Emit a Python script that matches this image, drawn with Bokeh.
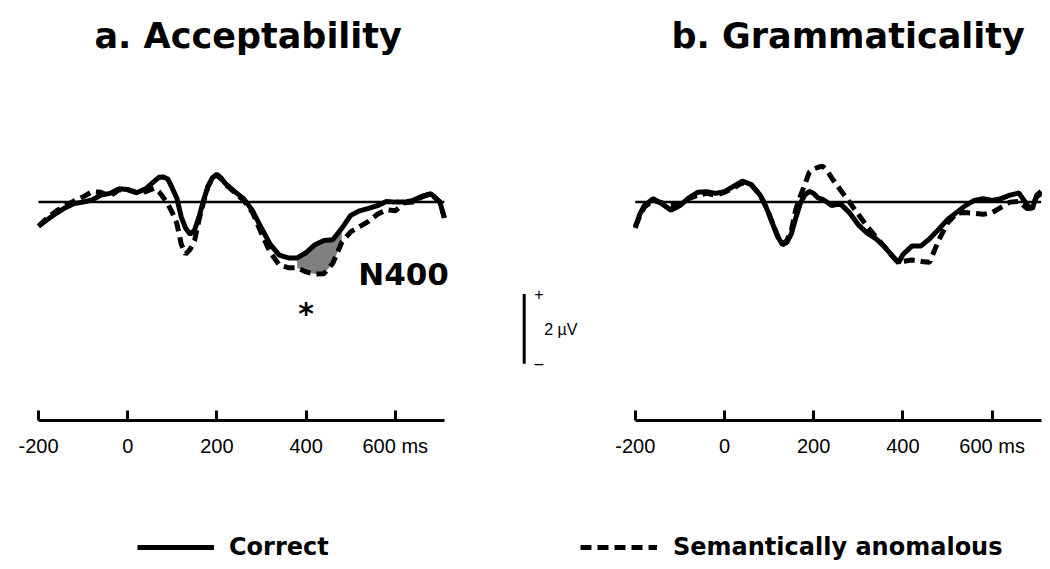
from bokeh.plotting import figure
from bokeh.models import LinearAxis, FixedTicker, Legend, LegendItem, Label, Title, Range1d
from bokeh.layouts import row, column
from bokeh.embed import file_html
from bokeh.resources import INLINE
import numpy as np

# ---------------- data (ms, µV; positive up) ----------------
time_a = [-200, -180, -160, -140, -120, -100, -80, -60, -40, -20, 0, 20, 40, 60, 70, 80, 90,
          100, 110, 120, 130, 140, 150, 160, 170, 180, 190, 200, 210, 220, 240, 260, 280, 300,
          320, 340, 360, 380, 400, 420, 440, 460, 480, 500, 520, 540, 560, 580, 600, 620, 640,
          660, 680, 700, 710]
correct_a = [-0.69, -0.5, -0.32, -0.16, -0.04, 0.0, 0.06, 0.2, 0.25, 0.38, 0.36, 0.27, 0.38, 0.6,
             0.71, 0.72, 0.66, 0.4, 0.12, -0.42, -0.75, -0.92, -0.8, -0.42, 0.05, 0.45, 0.7, 0.8,
             0.68, 0.52, 0.3, 0.1, -0.25, -0.75, -1.22, -1.52, -1.6, -1.6, -1.45, -1.22, -1.1,
             -1.08, -0.75, -0.38, -0.25, -0.18, -0.1, 0.02, 0.0, 0.0, 0.05, 0.17, 0.24, 0.0, -0.45]
anomalous_a = [-0.69, -0.45, -0.25, -0.1, 0.03, 0.15, 0.3, 0.28, 0.17, 0.35, 0.36, 0.27, 0.3, 0.4,
               0.3, 0.13, -0.05, -0.3, -0.6, -1.2, -1.49, -1.35, -1.1, -0.5, 0.0, 0.45, 0.68, 0.78,
               0.66, 0.5, 0.28, 0.05, -0.3, -0.9, -1.45, -1.8, -1.88, -1.88, -2.0, -2.06, -2.05,
               -1.75, -1.15, -0.85, -0.7, -0.55, -0.35, -0.22, -0.25, -0.02, 0.0, 0.15, 0.24, 0.0,
               -0.45]

time_b = [-200, -190, -180, -160, -140, -120, -100, -80, -60, -40, -20, 0, 20, 40, 60, 80, 90,
          100, 110, 120, 130, 140, 150, 160, 170, 180, 190, 200, 210, 220, 230, 240, 260, 280,
          300, 320, 340, 360, 380, 390, 400, 420, 440, 460, 480, 500, 520, 540, 560, 580, 600,
          620, 640, 660, 680, 690, 700, 710]
correct_b = [-0.74, -0.35, -0.1, 0.1, -0.05, -0.23, -0.1, 0.12, 0.28, 0.3, 0.25, 0.3, 0.45, 0.6,
             0.5, 0.2, -0.05, -0.35, -0.69, -1.0, -1.22, -1.15, -0.9, -0.45, -0.03, 0.2, 0.31,
             0.25, 0.12, 0.08, 0.0, -0.1, -0.05, -0.3, -0.65, -0.89, -1.05, -1.3, -1.6, -1.74,
             -1.5, -1.26, -1.26, -1.05, -0.78, -0.5, -0.3, -0.1, 0.05, 0.1, 0.05, 0.1, 0.2, 0.26,
             -0.1, -0.2, 0.2, 0.31]
anomalous_b = [-0.7, -0.4, -0.15, 0.05, -0.02, -0.1, -0.05, 0.1, 0.2, 0.25, 0.2, 0.28, 0.4, 0.55,
               0.5, 0.2, -0.05, -0.35, -0.69, -1.0, -1.2, -1.1, -0.8, -0.2, 0.17, 0.5, 0.85, 0.95,
               1.0, 1.03, 0.9, 0.7, 0.35, 0.0, -0.35, -0.7, -1.0, -1.3, -1.6, -1.72, -1.7, -1.66,
               -1.7, -1.72, -1.1, -0.6, -0.32, -0.3, -0.32, -0.35, -0.3, -0.15, 0.0, 0.02, -0.2,
               -0.1, 0.15, 0.25]

tick_values = [-200, 0, 200, 400, 600]
tick_labels = ["-200", "0", "200", "400", "600 ms"]
n400_window = (380, 480)
scale_bar_uv = 2.0
titles = ["a. Acceptability", "b. Grammaticality"]
legend_labels = ["Correct", "Semantically anomalous"]

# ---------------- styling ----------------
BOLD = "DejaVu Sans"
LINE_W = 5
DASH = "11 6"
H = 480
Y_RANGE = (-6.257, 3.8)
PX_PER_MS = 0.446


def make_fig(width, x_range, border_left, title, title_offset, time):
    p = figure(width=width, height=H, x_range=x_range, y_range=Y_RANGE,
               x_axis_location=None, y_axis_location=None,
               output_backend="svg", toolbar_location=None,
               min_border_left=border_left, min_border_right=0,
               min_border_top=68, min_border_bottom=H - 420)
    p.outline_line_color = None
    p.background_fill_color = "white"
    p.border_fill_color = "white"
    p.xgrid.visible = False
    p.ygrid.visible = False
    p.title = Title(text=title, align="left", offset=title_offset, standoff=27,
                    text_font=BOLD, text_font_size="35px", text_font_style="bold",
                    text_color="black")
    ax = LinearAxis(ticker=FixedTicker(ticks=tick_values),
                    major_label_overrides=dict(zip(tick_values, tick_labels)),
                    bounds=(min(time), max(time)))
    ax.axis_line_width = 3
    ax.axis_line_color = "black"
    ax.major_tick_line_width = 3
    ax.major_tick_in = 10
    ax.major_tick_out = 0
    ax.minor_tick_in = 0
    ax.minor_tick_out = 0
    ax.major_label_text_font = "Liberation Sans"
    ax.major_label_text_font_size = "20px"
    ax.major_label_text_color = "black"
    ax.major_label_standoff = 14
    p.add_layout(ax, "below")
    # baseline
    p.line([min(time), max(time)], [0, 0], line_color="black", line_width=2.5)
    return p


# ---- panel a ----
SPLIT = 582
xa0 = -200 - 10 / PX_PER_MS
pa = make_fig(SPLIT, (xa0, xa0 + (SPLIT - 28) / PX_PER_MS), 28, titles[0], 66, time_a)

ta = np.array(time_a)
ca = np.array(correct_a)
aa = np.array(anomalous_a)
m = (ta >= n400_window[0]) & (ta <= n400_window[1])
pa.varea(x=ta[m], y1=ca[m], y2=aa[m], fill_color="#808080")
pa.line(time_a, anomalous_a, line_color="black", line_width=LINE_W, line_dash=DASH)
pa.line(time_a, correct_a, line_color="black", line_width=LINE_W)

pa.add_layout(Label(x=517, y=-2.06, text="N400", text_font=BOLD, text_font_style="bold",
                    text_font_size="31px", text_baseline="middle", text_align="left",
                    text_color="black"))
pa.add_layout(Label(x=400, y=-3.2, text="*", text_font=BOLD, text_font_style="bold",
                    text_font_size="30px", text_baseline="alphabetic", text_align="center",
                    text_color="black"))

# scale bar
sb_x, sb_top = 889, -2.63
pa.line([sb_x, sb_x], [sb_top, sb_top - scale_bar_uv], line_color="black", line_width=3)
pa.add_layout(Label(x=sb_x + 33, y=sb_top, text="+", text_font="Liberation Sans",
                    text_font_size="16px", text_baseline="middle", text_align="center",
                    text_color="black"))
pa.add_layout(Label(x=sb_x + 33, y=sb_top - scale_bar_uv, text="\u2013",
                    text_font="Liberation Sans", text_font_size="16px",
                    text_baseline="middle", text_align="center", text_color="black"))
pa.add_layout(Label(x=sb_x + 45, y=sb_top - scale_bar_uv / 2 - 0.03, text="2 \u00b5V",
                    text_font="Liberation Sans", text_font_size="16px",
                    text_baseline="middle", text_align="left", text_color="black"))

# ---- panel b ----
xb0 = (SPLIT - 724) / PX_PER_MS
pb = make_fig(1042 - SPLIT, (xb0, xb0 + (1042 - SPLIT) / PX_PER_MS), 0, titles[1],
              671 - SPLIT, time_b)
pb.line(time_b, anomalous_b, line_color="black", line_width=LINE_W, line_dash=DASH)
pb.line(time_b, correct_b, line_color="black", line_width=LINE_W)

# ---- legend strip ----
LH = 85
pl = figure(width=1042, height=LH, x_range=Range1d(0, 1), y_range=Range1d(0, 1),
            x_axis_location=None, y_axis_location=None,
            output_backend="svg", toolbar_location=None,
            min_border_left=0, min_border_right=0, min_border_top=0, min_border_bottom=0)
pl.outline_line_color = None
pl.xgrid.visible = False
pl.ygrid.visible = False
# off-range sample renderers, used only for the legend swatches
r_solid = pl.line([-2, -1], [-2, -1], line_color="black", line_width=LINE_W)
r_dash = pl.line([-2, -1], [-2, -1], line_color="black", line_width=LINE_W, line_dash=DASH)

for lab, rend, xloc, standoff in [(legend_labels[0], r_solid, 137, 15),
                                   (legend_labels[1], r_dash, 580, 16)]:
    pl.add_layout(Legend(items=[LegendItem(label=lab, renderers=[rend])],
                         location=(xloc, 4), padding=0, margin=0, spacing=0,
                         glyph_width=77, glyph_height=20, label_standoff=standoff,
                         label_text_font=BOLD, label_text_font_style="bold",
                         label_text_font_size="24px", label_text_color="black",
                         border_line_color=None, background_fill_alpha=0))

layout = column(row(pa, pb), pl)
open("out.html", "w").write(file_html(layout, INLINE))
